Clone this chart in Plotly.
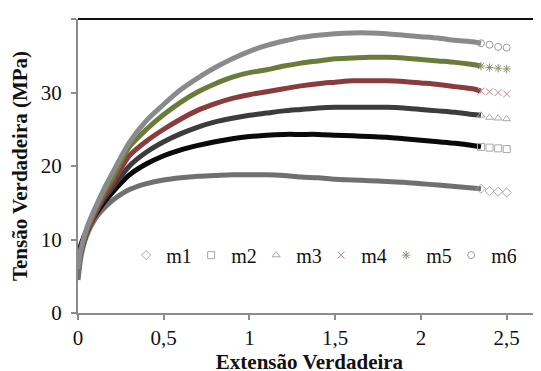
import plotly.graph_objects as go

# True strain (x) values; last three are the sparse tail points
extensao = [0, 0.02, 0.05, 0.1, 0.15, 0.2, 0.3, 0.4, 0.5, 0.6, 0.7, 0.8, 0.9, 1.0,
            1.1, 1.2, 1.3, 1.4, 1.5, 1.6, 1.7, 1.8, 1.9, 2.0, 2.1, 2.2, 2.3, 2.35,
            2.4, 2.45, 2.5]
n_tail = 3

m1 = [4.5, 8.0, 10.5, 12.8, 14.2, 15.3, 16.8, 17.6, 18.1, 18.4, 18.6, 18.7, 18.8, 18.8,
      18.8, 18.7, 18.5, 18.4, 18.2, 18.1, 18.0, 17.9, 17.8, 17.6, 17.4, 17.2, 17.0, 16.9,
      16.6, 16.5, 16.4]
m2 = [8.0, 9.5, 11.2, 13.3, 15.0, 16.4, 18.8, 20.3, 21.4, 22.2, 22.8, 23.3, 23.7, 24.0,
      24.2, 24.3, 24.3, 24.3, 24.2, 24.1, 24.0, 23.9, 23.7, 23.5, 23.3, 23.1, 22.8, 22.6,
      22.5, 22.4, 22.3]
m3 = [7.5, 9.0, 11.0, 13.5, 15.5, 17.0, 20.0, 21.9, 23.3, 24.4, 25.3, 26.0, 26.5, 26.9,
      27.2, 27.5, 27.7, 27.9, 28.0, 28.0, 28.0, 28.0, 27.9, 27.7, 27.5, 27.3, 27.0, 26.9,
      26.6, 26.5, 26.4]
m4 = [6.8, 8.5, 10.8, 13.5, 15.8, 17.6, 21.4, 23.4, 25.0, 26.4, 27.6, 28.5, 29.2, 29.7,
      30.1, 30.5, 30.9, 31.2, 31.4, 31.6, 31.6, 31.6, 31.5, 31.3, 31.1, 30.8, 30.5, 30.2,
      30.1, 30.0, 29.8]
m5 = [7.2, 8.8, 11.2, 14.0, 16.3, 18.3, 22.6, 25.0, 27.0, 28.7, 30.1, 31.2, 32.1, 32.7,
      33.1, 33.6, 34.0, 34.3, 34.6, 34.7, 34.8, 34.8, 34.7, 34.5, 34.3, 34.1, 33.8, 33.6,
      33.4, 33.3, 33.2]
m6 = [6.0, 9.0, 11.5, 14.3, 16.8, 19.0, 23.2, 26.2, 28.4, 30.4, 32.0, 33.4, 34.6, 35.6,
      36.4, 37.0, 37.5, 37.8, 38.0, 38.1, 38.1, 38.0, 37.8, 37.6, 37.4, 37.1, 36.9, 36.7,
      36.5, 36.2, 36.1]

series_names = ["m1", "m2", "m3", "m4", "m5", "m6"]
x_ticks = [0, 0.5, 1, 1.5, 2, 2.5]
x_tick_labels = ["0", "0,5", "1", "1,5", "2", "2,5"]
y_ticks = [0, 10, 20, 30, 40]

series = [m1, m2, m3, m4, m5, m6]
band_colors = ["#707070", "#0a0a0a", "#3c3c3c", "#8a3c3c", "#6b7b3a", "#8a8a8a"]
tail_colors = ["#a8a8a8", "#a8a8a8", "#a8a8a8", "#c48a8a", "#8a9470", "#9a9a9a"]
symbols = ["diamond-open", "square-open", "triangle-up-open", "x-thin-open",
           "asterisk-open", "circle-open"]

FONT = "Liberation Serif, Times New Roman, serif"

fig = go.Figure()
n_main = len(extensao) - n_tail
for name, ys, bc in zip(series_names, series, band_colors):
    fig.add_trace(go.Scatter(
        x=extensao[:n_main], y=ys[:n_main], mode="lines",
        line=dict(color=bc, width=5, shape="spline", smoothing=0.8),
        showlegend=False, hoverinfo="skip"))
for name, ys, tc, sym in zip(series_names, series, tail_colors, symbols):
    fig.add_trace(go.Scatter(
        x=extensao[n_main - 1:], y=ys[n_main - 1:], mode="markers", name=name,
        marker=dict(symbol=sym, size=7, color=tc, line=dict(color=tc, width=1))))

# page body has an 8px margin, so the figure starts 8px into the window
fig.update_layout(
    width=533, height=371,
    margin=dict(l=70, r=0, t=11, b=66, autoexpand=False),
    paper_bgcolor="white", plot_bgcolor="white",
    font=dict(family=FONT, size=21, color="#111"),
    separators=", ",
    legend=dict(orientation="h", x=0.104, y=0.197, xanchor="left", yanchor="middle",
                font=dict(size=20), bgcolor="rgba(0,0,0,0)",
                itemwidth=30, traceorder="normal",
                entrywidth=20, entrywidthmode="pixels"),
    xaxis=dict(range=[0, 2.7], tickvals=x_ticks, ticktext=x_tick_labels,
               showgrid=False, zeroline=False, showline=True, linecolor="#8c8c8c",
               linewidth=2, ticks="outside", ticklen=5, tickcolor="#8c8c8c",
               tickwidth=2, automargin=True,
               title=dict(text="<b>Extensão Verdadeira</b>", standoff=3,
                          font=dict(size=21))),
    yaxis=dict(range=[0, 40], tickvals=y_ticks, showgrid=False, zeroline=False,
               showline=True, linecolor="#8c8c8c", linewidth=2, ticks="outside",
               ticklen=5, tickcolor="#8c8c8c", tickwidth=2, ticklabelstandoff=5,
               automargin=True,
               title=dict(text="<b>Tensão Verdadeira (MPa)</b>", standoff=8,
                          font=dict(size=21))),
)
fig.add_shape(type="line", xref="paper", yref="paper", x0=0, x1=1, y0=1, y1=1,
              line=dict(color="#111", width=2))

fig.write_html("out.html")
